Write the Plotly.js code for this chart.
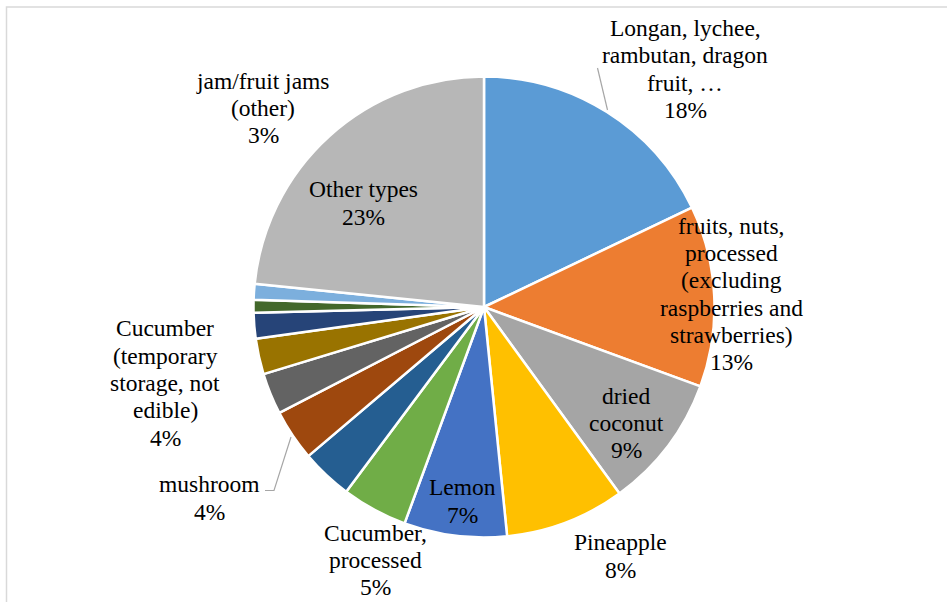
<!DOCTYPE html>
<html>
<head>
<meta charset="utf-8">
<script src="https://cdn.plot.ly/plotly-3.0.1.min.js"></script>
<style>
  html, body { margin: 0; padding: 0; background: #ffffff; }
  #chart { width: 947px; height: 602px; }
</style>
</head>
<body>
<div id="chart"></div>
<script>
// ---- Data ----
const categories = [
  "Longan, lychee, rambutan, dragon fruit, …",
  "fruits, nuts, processed (excluding raspberries and strawberries)",
  "dried coconut",
  "Pineapple",
  "Lemon",
  "Cucumber, processed",
  "Cucumber (temporary storage, not edible)",
  "mushroom",
  "jam/fruit jams (other)",
  "Category 10",
  "Category 11",
  "Category 12",
  "Category 13",
  "Other types"
];
const values = [17.9, 12.7, 9.4, 8.4, 7.2, 4.6, 3.6, 3.6, 2.9, 2.5, 1.8, 0.9, 1.1, 23.4];
// label text as broken into lines in the chart ("" = no label shown)
const labelLines = [
  ["Longan, lychee,", "rambutan, dragon", "fruit, …"],
  ["fruits, nuts,", "processed", "(excluding", "raspberries and", "strawberries)"],
  ["dried", "coconut"],
  ["Pineapple"],
  ["Lemon"],
  ["Cucumber,", "processed"],
  ["Cucumber", "(temporary", "storage, not", "edible)"],
  ["mushroom"],
  ["jam/fruit jams", "(other)"],
  null, null, null, null,
  ["Other types"]
];

// ---- Style ----
const colors = ["#5B9BD5", "#ED7D31", "#A5A5A5", "#FFC000", "#4472C4", "#70AD47",
                "#255E91", "#9E480E", "#636363", "#997300", "#264478", "#43682B",
                "#7CAFDD", "#B7B7B7"];
// label block centres in pixels (x, y)
const labelPos = [
  [685, 69], [731, 294], [626, 423], [620, 556], [462, 501], [375, 560],
  [165, 383], [209, 498], [263, 108], null, null, null, null, [363, 203]
];
const W = 947, H = 602, LINE = 27.3, FONT = "Liberation Serif, Times New Roman, serif";
const fx = x => x / W, fy = y => 1 - y / H;

const total = values.reduce((a, b) => a + b, 0);
const annotations = [];
values.forEach((v, i) => {
  if (!labelLines[i]) return;
  const lines = labelLines[i].concat([Math.round(v / total * 100) + "%"]);
  const [cx, cy] = labelPos[i];
  lines.forEach((t, k) => {
    annotations.push({
      x: fx(cx), y: fy(cy + (k - (lines.length - 1) / 2) * LINE),
      xref: "paper", yref: "paper", text: t, showarrow: false,
      xanchor: "center", yanchor: "middle",
      font: { family: FONT, size: 23.5, color: "#000000" }
    });
  });
});

const cX = 484, cY = 307, R = 230.5;
const shapes = [
  { type: "rect", xref: "paper", yref: "paper", x0: fx(6.5), x1: 1.02, y0: -0.02, y1: fy(7),
    line: { color: "#D9D9D9", width: 1.5 }, fillcolor: "rgba(0,0,0,0)" },
  { type: "path", xref: "paper", yref: "paper",
    path: `M ${fx(597.5)} ${fy(68)} L ${fx(607.5)} ${fy(110)}`,
    line: { color: "#A6A6A6", width: 1.2 } },
  { type: "path", xref: "paper", yref: "paper",
    path: `M ${fx(265)} ${fy(490.5)} L ${fx(274)} ${fy(490.5)} L ${fx(291)} ${fy(437)}`,
    line: { color: "#A6A6A6", width: 1.2 } }
];

const trace = {
  type: "pie",
  labels: categories,
  values: values,
  sort: false,
  direction: "clockwise",
  rotation: 0,
  textinfo: "none",
  hoverinfo: "label+percent",
  marker: { colors: colors, line: { color: "#FFFFFF", width: 2.5 } },
  domain: { x: [fx(cX - R), fx(cX + R)], y: [fy(cY + R), fy(cY - R)] },
  showlegend: false
};

const layout = {
  width: W, height: H,
  margin: { l: 0, r: 0, t: 0, b: 0 },
  paper_bgcolor: "#FFFFFF",
  showlegend: false,
  annotations: annotations,
  shapes: shapes
};

Plotly.newPlot("chart", [trace], layout, { displayModeBar: false, staticPlot: true });
</script>
</body>
</html>
